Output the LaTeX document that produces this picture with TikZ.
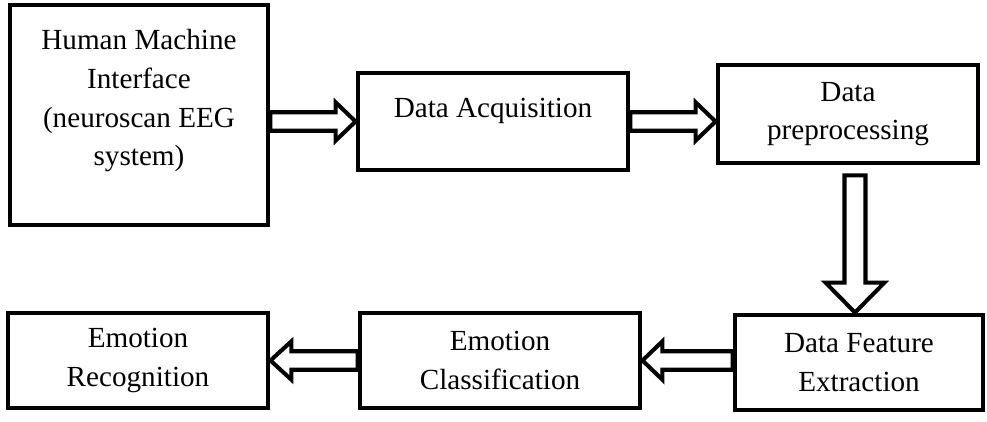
\documentclass[tikz,border=0pt]{standalone}
\usepackage{fontspec}
\setmainfont{Liberation Serif}
\usetikzlibrary{calc}

\newcommand{\hollowarrow}[5]{%
  \coordinate (neck) at ($(#2)!#5!(#1)$);
  \draw[blk] ($(#1)!#3!90:(#2)$)--($(neck)!#3!90:(#2)$)--($(neck)!#4!90:(#2)$)--(#2)
    --($(neck)!#4!-90:(#2)$)--($(neck)!#3!-90:(#2)$)--($(#1)!#3!-90:(#2)$)--cycle;
}

\begin{document}
\begin{tikzpicture}[
  box/.style={draw=black,line width=2.8pt,align=center,inner sep=0pt,font=\fontsize{16.6}{22}\selectfont},
  word/.style={align=center,inner sep=0pt,font=\fontsize{16.6}{22}\selectfont},
  blk/.style={draw=black,line width=2.3pt,line join=miter},
]
\useasboundingbox (0,0) rectangle (19.74,8.42);
\node[box,minimum width=5.16cm,minimum height=4.4cm] (hmi) at (2.78,6.12) {};
\node[word] (hmitext) at (2.78,6.4) {Human Machine\\Interface\\(neuroscan EEG\\system)};
\node[box,minimum width=5.4cm,minimum height=1.94cm] (da) at (9.86,5.99) {};
\node[word] (datext) at (9.86,6.2) {Data Acquisition};
\node[box,minimum width=5.2cm,minimum height=1.96cm] (dp) at (16.96,6.14) {Data\\preprocessing};
\node[box,minimum width=4.96cm,minimum height=1.9cm] (dfe) at (17.18,1.17) {Data Feature\\Extraction};
\node[box,minimum width=5.6cm,minimum height=1.9cm] (ec) at (10.0,1.21) {Emotion\\Classification};
\node[box,minimum width=5.2cm,minimum height=1.9cm] (er) at (2.76,1.21) {Emotion\\Recognition};

\coordinate (a1) at (hmi.east |- da.west);
\coordinate (a2) at (dp.west |- da.east);
\coordinate (a3t) at ([xshift=-0.08cm]dfe.north);
\coordinate (a3s) at ([yshift=-0.2cm]a3t |- dp.south);
\hollowarrow{a1}{da.west}{0.185cm}{0.385cm}{0.4cm}
\hollowarrow{da.east}{a2}{0.185cm}{0.385cm}{0.4cm}
\hollowarrow{a3s}{a3t}{0.21cm}{0.59cm}{0.6cm}
\hollowarrow{dfe.west |- ec.east}{ec.east}{0.185cm}{0.385cm}{0.4cm}
\hollowarrow{ec.west}{er.east}{0.185cm}{0.385cm}{0.42cm}
\end{tikzpicture}
\end{document}
